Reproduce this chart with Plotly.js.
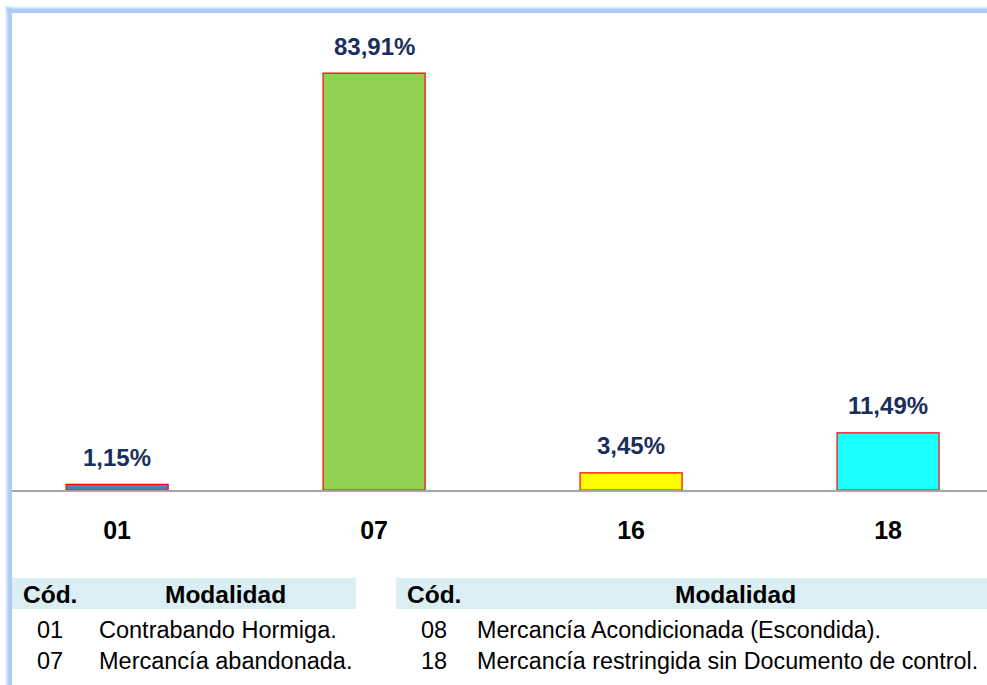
<!DOCTYPE html>
<html>
<head>
<meta charset="utf-8">
<script src="https://cdn.plot.ly/plotly-3.0.1.min.js"></script>
<style>
html,body{margin:0;padding:0;background:#fff;}
#chart{width:987px;height:685px;}
</style>
</head>
<body>
<div id="chart"></div>
<script>
// ---- data ----
var categories = ["01", "07", "16", "18"];
var values = [1.15, 83.91, 3.45, 11.49];
var valueLabels = ["1,15%", "83,91%", "3,45%", "11,49%"];
var barColors = ["#4F81BD", "#92D050", "#FFFF00", "#1AFFFF"];

var tableHeader = ["Cód.", "Modalidad"];
var leftCodes = ["01", "07"];
var leftNames = ["Contrabando Hormiga.", "Mercancía abandonada."];
var rightCodes = ["08", "18"];
var rightNames = ["Mercancía Acondicionada (Escondida).", "Mercancía restringida sin Documento de control."];

// ---- geometry helpers (pixel -> paper) ----
var W = 987, H = 685;
var L = 12, T = 13, B = 195, R = 0;
var pw = W - L - R, ph = H - T - B;
function px(x){ return (x - L) / pw; }
function py(y){ return (H - B - y) / ph; }

var shapes = [];
// frame gradient (top and left bands)
var bandSteps = [
  {o:5, c:"rgba(170,204,245,0.15)"},
  {o:4, c:"rgba(170,204,245,0.3)"},
  {o:3, c:"rgba(170,204,245,0.5)"},
  {o:2, c:"rgba(170,204,245,0.75)"},
  {o:1, c:"rgba(170,204,245,1)"}
];
bandSteps.forEach(function(s){
  var inner = 2 + s.o;
  shapes.push({type:"rect", xref:"paper", yref:"paper", layer:"below",
    x0:px(12 - inner), x1:px(W + 5), y0:py(13), y1:py(13 - inner),
    fillcolor:s.c, line:{width:0}});
  shapes.push({type:"rect", xref:"paper", yref:"paper", layer:"below",
    x0:px(12 - inner), x1:px(12), y0:py(H + 5), y1:py(13 - inner),
    fillcolor:s.c, line:{width:0}});
});
// table header backgrounds
shapes.push({type:"rect", xref:"paper", yref:"paper", layer:"below",
  x0:px(12), x1:px(356), y0:py(609), y1:py(578), fillcolor:"#DAEEF3", line:{width:0}});
shapes.push({type:"rect", xref:"paper", yref:"paper", layer:"below",
  x0:px(396), x1:px(W + 5), y0:py(609), y1:py(578), fillcolor:"#DAEEF3", line:{width:0}});

var annotations = [];
// value labels above bars (x = category index on the category axis)
for (var i = 0; i < categories.length; i++) {
  annotations.push({x: i, y: values[i], xref:"x", yref:"y",
    text: "<b>" + valueLabels[i] + "</b>", showarrow:false, yanchor:"middle", yshift:27,
    font:{family:"Liberation Sans, Arial, sans-serif", size:24, color:"#1A2F5E"}});
}
function addText(txt, x, y, size, bold, anchor){
  annotations.push({xref:"paper", yref:"paper", x:px(x), y:py(y), text: bold ? "<b>"+txt+"</b>" : txt,
    showarrow:false, xanchor:anchor, yanchor:"middle",
    font:{family:"Liberation Sans, Arial, sans-serif", size:size, color:"#000"}});
}
// left table
addText(tableHeader[0], 21, 594, 24.5, true, "left");
addText(tableHeader[1], 225, 594, 24.5, true, "center");
for (var j = 0; j < leftCodes.length; j++) {
  addText(leftCodes[j], 50, 630 + j*31, 23.5, false, "center");
  addText(leftNames[j], 97, 630 + j*31, 23.5, false, "left");
}
// right table
addText(tableHeader[0], 405, 594, 24.5, true, "left");
addText(tableHeader[1], 735, 594, 24.5, true, "center");
for (var k = 0; k < rightCodes.length; k++) {
  addText(rightCodes[k], 434, 630 + k*31, 23.5, false, "center");
  addText(rightNames[k], 475, 630 + k*31, 23.3, false, "left");
}

var trace = {
  type:"bar", x: categories, y: values, width:0.397,
  marker:{color: barColors, line:{color:"#FF0000", width:1.2}},
  hoverinfo:"x+y"
};

var layout = {
  width: W, height: H,
  margin:{l:L, r:R, t:T, b:B, pad:0},
  paper_bgcolor:"#fff", plot_bgcolor:"#fff",
  showlegend:false,
  xaxis:{type:"category", range:[-0.409, 3.385], showgrid:false, zeroline:false,
    showline:true, linecolor:"#A6A6A6", linewidth:2, ticks:"",
    tickfont:{family:"Liberation Sans, Arial, sans-serif", size:25, color:"#000", weight:"bold"},
    ticklabelstandoff:17, fixedrange:true},
  yaxis:{range:[0, 96], showgrid:false, zeroline:false, showline:false,
    showticklabels:false, ticks:"", fixedrange:true},
  shapes: shapes,
  annotations: annotations
};

Plotly.newPlot("chart", [trace], layout, {displayModeBar:false, staticPlot:true});
</script>
</body>
</html>
